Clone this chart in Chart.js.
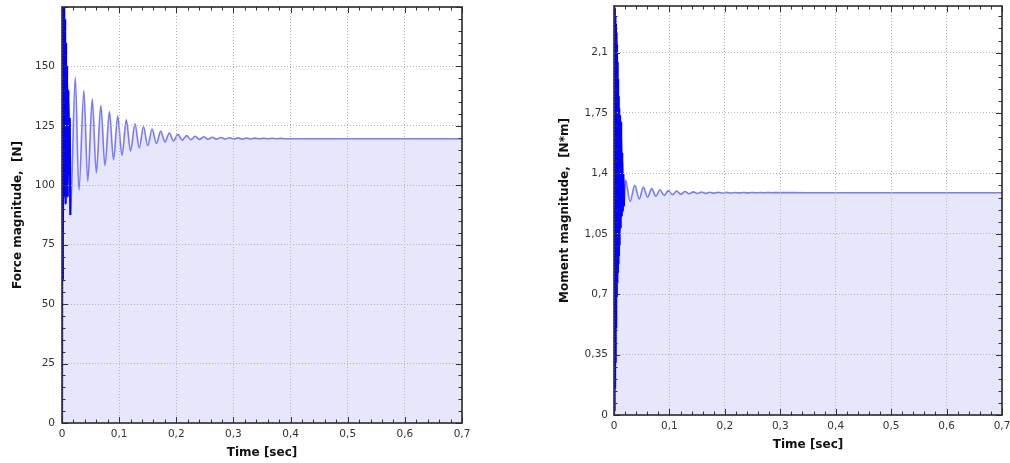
<!DOCTYPE html>
<html>
<head>
<meta charset="utf-8">
<script src="https://cdn.jsdelivr.net/npm/chart.js@4/dist/chart.umd.min.js"></script>
<style>
  body { margin: 0; background: #fff; }
  #left, #right { position: absolute; top: 0; }
  #left { left: 0; }
  #right { left: 505px; }
</style>
</head>
<body>
<canvas id="left" width="505" height="463"></canvas>
<canvas id="right" width="505" height="463"></canvas>
<script>
// Force magnitude [N] vs time [sec]
const forceTime = [0, 0.0008, 0.0016, 0.0024, 0.0032, 0.004, 0.0048, 0.0056, 0.0064, 0.0072,
  0.008, 0.009, 0.01, 0.0112, 0.0125, 0.0135, 0.0146, 0.0233, 0.0296, 0.0383,
  0.045, 0.053, 0.06, 0.068, 0.0752, 0.083, 0.0902, 0.0975, 0.105, 0.1125,
  0.12, 0.1277, 0.1352, 0.1426, 0.15, 0.1577, 0.1652, 0.1728, 0.1802, 0.1878,
  0.1952, 0.2029, 0.2105, 0.218, 0.2255, 0.233, 0.2405, 0.248, 0.2555, 0.263,
  0.2705, 0.278, 0.2855, 0.293, 0.3005, 0.308, 0.3155, 0.323, 0.3305, 0.338,
  0.3455, 0.353, 0.3605, 0.368, 0.3755, 0.383, 0.3905, 0.45, 0.55, 0.7];
const forceValue = [0, 180, 60, 182, 95, 178, 100, 170, 92, 160,
  100, 150, 95, 140, 105, 128, 87.5, 145.5, 97.9, 139.9,
  101.7, 136.3, 105.2, 133.5, 108.3, 131.0, 110.8, 129.1, 112.6, 127.6,
  114.4, 125.9, 115.7, 124.7, 116.7, 123.7, 117.6, 122.8, 118.2, 122.0,
  118.7, 121.4, 119.0, 120.9, 119.2, 120.6, 119.3, 120.4, 119.35, 120.2,
  119.4, 120.1, 119.45, 120.0, 119.5, 119.95, 119.5, 119.9, 119.5, 119.85,
  119.55, 119.8, 119.55, 119.8, 119.55, 119.75, 119.6, 119.6, 119.6, 119.6];

// Moment magnitude [N*m] vs time [sec]
const momentTime = [0, 0.0005, 0.001, 0.0015, 0.002, 0.0025, 0.003, 0.0035, 0.004, 0.0045,
  0.005, 0.0055, 0.006, 0.0065, 0.007, 0.0075, 0.008, 0.0085, 0.009, 0.0095,
  0.01, 0.011, 0.012, 0.013, 0.014, 0.015, 0.016, 0.017, 0.018, 0.021,
  0.029, 0.0375, 0.0455, 0.053, 0.0605, 0.068, 0.0755, 0.083, 0.0905, 0.098,
  0.1055, 0.113, 0.1205, 0.128, 0.1355, 0.143, 0.1505, 0.158, 0.1655, 0.173,
  0.1805, 0.188, 0.1955, 0.203, 0.2105, 0.218, 0.2255, 0.233, 0.2405, 0.248,
  0.2555, 0.263, 0.2705, 0.278, 0.2855, 0.293, 0.35, 0.7];
const momentValue = [0, 2.40, 0.02, 2.36, 0.15, 2.31, 0.30, 2.27, 0.50, 2.22,
  0.68, 2.15, 0.76, 2.05, 0.82, 1.95, 0.87, 1.85, 0.92, 1.78,
  0.98, 1.74, 1.08, 1.70, 1.15, 1.52, 1.18, 1.40, 1.21, 1.362,
  1.238, 1.331, 1.252, 1.321, 1.262, 1.312, 1.268, 1.305, 1.273, 1.300,
  1.277, 1.297, 1.280, 1.295, 1.282, 1.293, 1.2835, 1.292, 1.2845, 1.291,
  1.2855, 1.2905, 1.286, 1.290, 1.2865, 1.2897, 1.287, 1.2894, 1.2873, 1.2892,
  1.2876, 1.289, 1.2878, 1.2889, 1.288, 1.2888, 1.288, 1.288];

const TICK_FONT = { family: 'DejaVu Sans', size: 10.5 };
const TITLE_FONT = { family: 'DejaVu Sans', size: 12, weight: 'bold' };

const fmt = v => Number(v.toFixed(2)).toString().replace('.', ',');

// frame around the plot plus inward major/minor ticks on all four sides
const frameTicks = {
    id: 'frameTicks',
    afterDraw(chart, args, opts) {
        const { ctx, chartArea: a, scales: { x, y } } = chart;
        ctx.save();
        ctx.strokeStyle = '#333';
        ctx.lineWidth = 1;
        ctx.beginPath();
        for (let i = 0; i <= opts.xCount; i++) {
            const px = Math.round(x.getPixelForValue(i * opts.xMinor)) + 0.5;
            const len = i % 5 === 0 ? 6 : 3.5;
            ctx.moveTo(px, a.bottom); ctx.lineTo(px, a.bottom - len);
            ctx.moveTo(px, a.top); ctx.lineTo(px, a.top + len);
        }
        for (let i = 0; i <= opts.yCount; i++) {
            const py = Math.round(y.getPixelForValue(i * opts.yMinor)) + 0.5;
            const len = i % 5 === 0 ? 6 : 3.5;
            ctx.moveTo(a.left, py); ctx.lineTo(a.left + len, py);
            ctx.moveTo(a.right, py); ctx.lineTo(a.right - len, py);
        }
        ctx.stroke();
        ctx.lineWidth = 1.6;
        ctx.strokeStyle = '#2b2b2b';
        ctx.strokeRect(a.left, a.top, a.width, a.height);
        ctx.restore();
    }
};

// no extra room for edge labels: the plot box is fixed by the layout padding
const noEdgePadding = s => {
    s.paddingTop = 0; s.paddingBottom = 0; s.paddingLeft = 0; s.paddingRight = 0;
};

function makeChart(id, times, values, opt) {
    const ctx = document.getElementById(id).getContext('2d');
    const points = times.map((t, i) => ({ x: t, y: values[i] }));
    // the fast start-up oscillation is drawn on top in solid blue
    const transient = points.filter(p => p.x <= opt.transientEnd);
    return new Chart(ctx, {
        type: 'line',
        data: {
            datasets: [{
                data: transient,
                borderColor: '#0000ff',
                borderWidth: 2.2,
                fill: false,
                pointRadius: 0,
                cubicInterpolationMode: 'monotone'
            }, {
                data: points,
                borderColor: 'rgba(40, 40, 255, 0.6)',
                borderWidth: 1.6,
                backgroundColor: '#e7e7fb',
                fill: 'origin',
                pointRadius: 0,
                cubicInterpolationMode: 'monotone'
            }]
        },
        options: {
            responsive: false,
            animation: false,
            devicePixelRatio: 1,
            layout: { padding: opt.padding },
            plugins: {
                legend: { display: false },
                tooltip: { enabled: false },
                frameTicks: opt.frame
            },
            scales: {
                x: {
                    type: 'linear', min: 0, max: 0.7,
                    afterFit: s => { s.height = 40; noEdgePadding(s); },
                    ticks: { stepSize: 0.1, font: TICK_FONT, color: '#333', padding: 5, maxRotation: 0, autoSkip: false, callback: v => fmt(v) },
                    grid: { color: '#b5b5b5', drawTicks: false, z: 1 },
                    border: { display: false, dash: [1, 2] },
                    title: { display: true, text: 'Time [sec]', font: TITLE_FONT, color: '#111', padding: { top: 0, bottom: 2.8 } }
                },
                y: {
                    min: 0, max: opt.yMax,
                    afterFit: s => { s.width = opt.yWidth; noEdgePadding(s); },
                    ticks: {
                        stepSize: opt.yStep, includeBounds: false, font: TICK_FONT, color: '#333', padding: opt.yPad,
                        callback: v => v >= opt.yMax ? '' : fmt(v)
                    },
                    grid: { color: '#b5b5b5', drawTicks: false, z: 1 },
                    border: { display: false, dash: [1, 2] },
                    title: { display: true, text: opt.yTitle, font: TITLE_FONT, color: '#111', padding: { top: opt.titlePad, bottom: 0 } }
                }
            }
        },
        plugins: [frameTicks]
    });
}

makeChart('left', forceTime, forceValue, {
    transientEnd: 0.0146,
    padding: { left: 0, top: 7, right: 43, bottom: 0 },
    yMax: 175, yStep: 25, yWidth: 62, yPad: 7, titlePad: 10.3,
    yTitle: 'Force magnitude,  [N]',
    frame: { xMinor: 0.02, xCount: 35, yMinor: 5, yCount: 35 }
});

makeChart('right', momentTime, momentValue, {
    transientEnd: 0.018,
    padding: { left: 43, top: 6, right: 8, bottom: 8 },
    yMax: 2.37, yStep: 0.35, yWidth: 66, yPad: 6, titlePad: 9.8,
    yTitle: 'Moment magnitude,  [N*m]',
    frame: { xMinor: 0.02, xCount: 35, yMinor: 0.07, yCount: 33 }
});
</script>
</body>
</html>
